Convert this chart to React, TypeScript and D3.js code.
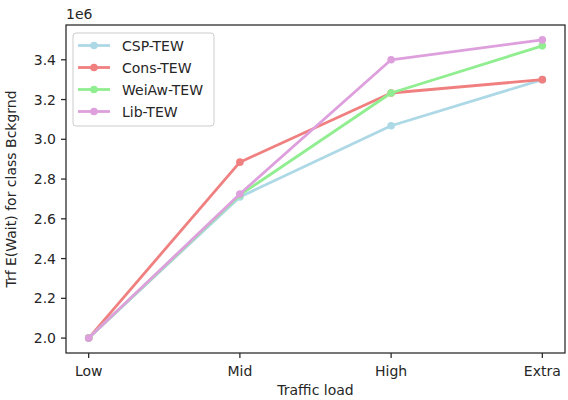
import React, { useRef, useEffect } from 'react';
import * as d3 from 'd3';

const categories = ['Low', 'Mid', 'High', 'Extra'];
const seriesNames = ['CSP-TEW', 'Cons-TEW', 'WeiAw-TEW', 'Lib-TEW'];
const seriesColors = ['#add8e6', '#f08080', '#90ee90', '#dda0dd'];
const cspValues = [2.0, 2.71, 3.068, 3.30];
const consValues = [2.0, 2.885, 3.233, 3.30];
const weiawValues = [2.0, 2.72, 3.233, 3.47];
const libValues = [2.0, 2.725, 3.40, 3.50];
const yTicks = [2.0, 2.2, 2.4, 2.6, 2.8, 3.0, 3.2, 3.4];

const App = () => {
    const svgRef = useRef<SVGSVGElement>(null);

    useEffect(() => {
        const allSeries = [cspValues, consValues, weiawValues, libValues];
        const margin = { top: 25, right: 3, bottom: 47, left: 66 };
        const width = 568 - margin.left - margin.right;
        const height = 400 - margin.top - margin.bottom;
        const font = 'DejaVu Sans, sans-serif';
        const fontSize = '14px';
        const textColor = '#262626';

        const root = d3.select(svgRef.current);
        root.selectAll('*').remove();
        const svg = root.append('g')
            .attr('transform', 'translate(' + margin.left + ',' + margin.top + ')');

        // category index scale with matplotlib's default 5% margins
        const xIdx = d3.scaleLinear().domain([-0.15, 3.15]).range([0, width]);
        const yScale = d3.scaleLinear().domain([1.925, 3.575]).range([height, 0]);

        allSeries.forEach((vals, i) => {
            const line = d3.line<number>()
                .x((_, j) => xIdx(j))
                .y(d => yScale(d));
            svg.append('path')
                .datum(vals)
                .attr('fill', 'none')
                .attr('stroke', seriesColors[i])
                .attr('stroke-width', 2.8)
                .attr('stroke-linejoin', 'round')
                .attr('d', line);
            svg.selectAll('.pt' + i)
                .data(vals)
                .enter()
                .append('circle')
                .attr('cx', (_, j) => xIdx(j))
                .attr('cy', d => yScale(d))
                .attr('r', 3.8)
                .attr('fill', seriesColors[i]);
        });

        // spines
        svg.append('rect')
            .attr('x', 0).attr('y', 0)
            .attr('width', width).attr('height', height)
            .attr('fill', 'none')
            .attr('stroke', '#262626')
            .attr('stroke-width', 1.25);

        // y ticks
        yTicks.forEach(t => {
            const y = yScale(t);
            svg.append('line')
                .attr('x1', -5).attr('x2', 0)
                .attr('y1', y).attr('y2', y)
                .attr('stroke', '#262626').attr('stroke-width', 1.25);
            svg.append('text')
                .attr('x', -10).attr('y', y)
                .attr('dy', '0.36em')
                .attr('text-anchor', 'end')
                .style('font-family', font)
                .style('font-size', fontSize)
                .attr('fill', textColor)
                .text(t.toFixed(1));
        });

        // x ticks
        categories.forEach((c, j) => {
            const x = xIdx(j);
            svg.append('line')
                .attr('x1', x).attr('x2', x)
                .attr('y1', height).attr('y2', height + 5)
                .attr('stroke', '#262626').attr('stroke-width', 1.25);
            svg.append('text')
                .attr('x', x).attr('y', height + 23)
                .attr('text-anchor', 'middle')
                .style('font-family', font)
                .style('font-size', fontSize)
                .attr('fill', textColor)
                .text(c);
        });

        svg.append('text')
            .attr('x', 0).attr('y', -6)
            .style('font-family', font)
            .style('font-size', fontSize)
            .attr('fill', textColor)
            .text('1e6');

        svg.append('text')
            .attr('x', width / 2).attr('y', height + 42)
            .attr('text-anchor', 'middle')
            .style('font-family', font)
            .style('font-size', fontSize)
            .attr('fill', textColor)
            .text('Traffic load');

        svg.append('text')
            .attr('transform', 'rotate(-90)')
            .attr('x', -height / 2).attr('y', -50)
            .attr('text-anchor', 'middle')
            .style('font-family', font)
            .style('font-size', fontSize)
            .attr('fill', textColor)
            .text('Trf E(Wait) for class Bckgrnd');

        // legend
        const legend = svg.append('g').attr('transform', 'translate(7,8)');
        legend.append('rect')
            .attr('x', 0).attr('y', 0)
            .attr('width', 141).attr('height', 93)
            .attr('rx', 3)
            .attr('fill', 'white')
            .attr('fill-opacity', 0.8)
            .attr('stroke', '#cccccc');
        seriesNames.forEach((name, i) => {
            const y = 12.5 + i * 22;
            legend.append('line')
                .attr('x1', 5).attr('x2', 37)
                .attr('y1', y).attr('y2', y)
                .attr('stroke', seriesColors[i])
                .attr('stroke-width', 2.8);
            legend.append('circle')
                .attr('cx', 21).attr('cy', y).attr('r', 3.8)
                .attr('fill', seriesColors[i]);
            legend.append('text')
                .attr('x', 49).attr('y', y)
                .attr('dy', '0.36em')
                .style('font-family', font)
                .style('font-size', fontSize)
                .attr('fill', textColor)
                .text(name);
        });
    }, []);

    return (
        <svg ref={svgRef} width={568} height={400}
            style={{ position: 'absolute', left: 0, top: 0, background: 'white' }} />
    );
};

export default App;
